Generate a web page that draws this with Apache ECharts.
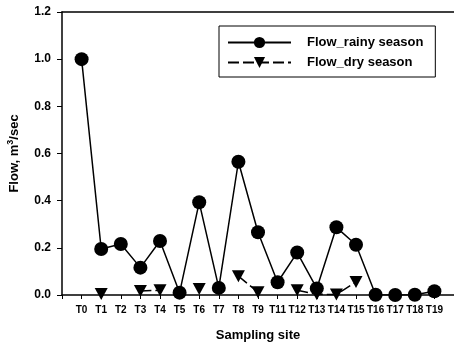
<!DOCTYPE html>
<html>
<head>
<meta charset="utf-8">
<script src="https://cdn.jsdelivr.net/npm/echarts@6/dist/echarts.min.js"></script>
<style>
html, body { margin: 0; padding: 0; background: #fff; }
#chart { width: 454px; height: 344px; }
</style>
</head>
<body>
<div id="chart"></div>
<script>
// sampling sites (no T10)
const sites = ['T0', 'T1', 'T2', 'T3', 'T4', 'T5', 'T6', 'T7', 'T8', 'T9',
    'T11', 'T12', 'T13', 'T14', 'T15', 'T16', 'T17', 'T18', 'T19'];
const rainyFlow = [1.0, 0.195, 0.216, 0.116, 0.229, 0.01, 0.393, 0.03, 0.565, 0.266,
    0.054, 0.18, 0.028, 0.287, 0.213, 0.001, 0.0, 0.001, 0.016];
const dryFlow = [null, 0.004, null, 0.017, 0.02, null, 0.025, null, 0.08, 0.012,
    null, 0.02, 0.003, 0.002, 0.055, null, null, null, null];
const yTicks = [0, 0.2, 0.4, 0.6, 0.8, 1.0, 1.2];

const font = 'Liberation Sans, Arial, sans-serif';
const chart = echarts.init(document.getElementById('chart'));

chart.setOption({
    animation: false,
    grid: { left: 62, right: 0, top: 12, bottom: 49, outerBoundsMode: 'none' },
    legend: {
        left: 219, top: 26,
        orient: 'vertical',
        padding: [10, 12, 8, 8],
        itemGap: 7,
        itemWidth: 63, itemHeight: 14,
        borderColor: '#000', borderWidth: 1,
        textStyle: { fontFamily: font, fontWeight: 'bold', fontSize: 13, color: '#000', padding: [0, 0, 0, 11] },
        data: ['Flow_rainy season', 'Flow_dry season']
    },
    xAxis: [{
        type: 'value',
        min: -1, max: 19, interval: 1,
        name: 'Sampling site',
        nameLocation: 'middle', nameGap: 34,
        nameTextStyle: { fontFamily: font, fontWeight: 'bold', fontSize: 13, color: '#000' },
        splitLine: { show: false },
        axisLine: { onZero: false, lineStyle: { color: '#000', width: 1.5 } },
        axisTick: { length: 4, lineStyle: { color: '#000', width: 1 } },
        axisLabel: {
            fontFamily: font, fontWeight: 'bold', fontSize: 10, color: '#000', margin: 10,
            formatter: v => (v >= 0 && v < sites.length) ? sites[v] : ''
        }
    }, {
        type: 'value', position: 'top',
        min: -1, max: 19,
        axisLine: { show: true, onZero: false, lineStyle: { color: '#000', width: 1.5 } },
        axisTick: { show: false }, axisLabel: { show: false }, splitLine: { show: false }
    }],
    yAxis: {
        type: 'value',
        min: 0, max: 1.2, interval: 0.2,
        name: 'Flow, {n|m}{s|3}{n|/sec}',
        nameLocation: 'middle', nameGap: 40,
        nameTextStyle: {
            fontFamily: font, fontWeight: 'bold', fontSize: 13, color: '#000',
            rich: {
                n: { fontFamily: font, fontWeight: 'bold', fontSize: 13, color: '#000' },
                s: { fontFamily: font, fontWeight: 'bold', fontSize: 9, color: '#000', padding: [0, 0, 7, 0] }
            }
        },
        splitLine: { show: false },
        axisLine: { show: true, onZero: false, lineStyle: { color: '#000', width: 1.5 } },
        axisTick: { length: 5, lineStyle: { color: '#000', width: 1 } },
        axisLabel: {
            fontFamily: font, fontWeight: 'bold', fontSize: 12, color: '#000', margin: 11,
            formatter: v => yTicks.includes(+v.toFixed(1)) ? v.toFixed(1) : ''
        }
    },
    series: [{
        name: 'Flow_rainy season',
        type: 'line',
        data: rainyFlow.map((v, i) => [i, v]),
        symbol: 'circle', symbolSize: 14,
        itemStyle: { color: '#000' },
        lineStyle: { color: '#000', width: 1.5 },
        z: 3
    }, {
        name: 'Flow_dry season',
        type: 'line',
        data: dryFlow.map((v, i) => [i, v]),
        connectNulls: false,
        symbol: 'triangle', symbolSize: [13, 12], symbolRotate: 180,
        itemStyle: { color: '#000' },
        lineStyle: { color: '#000', width: 1.5, type: [11, 4] },
        z: 2
    }]
});
window.addEventListener('resize', function () {
    chart.resize();
});
</script>
</body>
</html>
